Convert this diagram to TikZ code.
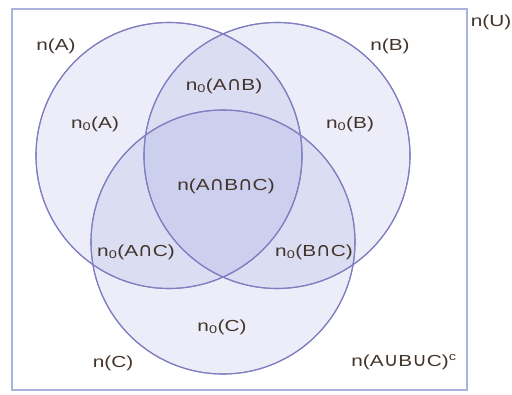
\documentclass[tikz,border=0pt]{standalone}
\usepackage{fontspec}
\setmainfont{Liberation Sans}[FakeStretch=1.3]
\newfontfamily\symf{DejaVu Sans}[FakeStretch=1.05]
\newcommand{\capx}{{\symf\fontsize{19}{18}\selectfont ∩}}
\newcommand{\cupx}{{\symf\fontsize{19}{18}\selectfont ∪}}
\newcommand{\zsub}{\textsubscript{0}}
\definecolor{txt}{RGB}{66,52,42}
\definecolor{ring}{RGB}{128,126,192}
\definecolor{tint}{RGB}{100,112,205}
\definecolor{frame}{RGB}{172,178,222}
\tikzset{
  setc/.style={draw=ring, line width=1.1pt, fill=tint, fill opacity=0.12, draw opacity=1},
  lab/.style={text=txt, font=\fontsize{16}{18}\selectfont, inner sep=0pt},
}
\begin{document}
\begin{tikzpicture}[x=1pt,y=-1pt]
\useasboundingbox (0,0) rectangle (512,395);
\fill[white] (0,0) rectangle (512,395);
\draw[frame, line width=1.6pt] (12,9) rectangle (467,390);
\path[setc] (169,155.5) circle (133);
\path[setc] (277,155.5) circle (133);
\path[setc] (223,242) circle (132);
\draw[ring, line width=1.1pt] (169,155.5) circle (133);
\draw[ring, line width=1.1pt] (277,155.5) circle (133);
\draw[ring, line width=1.1pt] (223,242) circle (132);
\node[lab] (U) at (491,22) {n(U)};
\node[lab] (A) at (56,46) {n(A)};
\node[lab] (B) at (390,46) {n(B)};
\node[lab] (AB) at (224,86) {n\zsub(A\capx B)};
\node[lab] (A0) at (95,124) {n\zsub(A)};
\node[lab] (B0) at (350,124) {n\zsub(B)};
\node[lab] (ABC) at (226,186) {n(A\capx B\capx C)};
\node[lab] (AC) at (136,252) {n\zsub(A\capx C)};
\node[lab] (BC) at (314,252) {n\zsub(B\capx C)};
\node[lab] (C0) at (222,327) {n\zsub(C)};
\node[lab] (C) at (113,363) {n(C)};
\node[lab] (Comp) at (404,362) {n(A\cupx B\cupx C)\textsuperscript{c}};
\end{tikzpicture}
\end{document}
